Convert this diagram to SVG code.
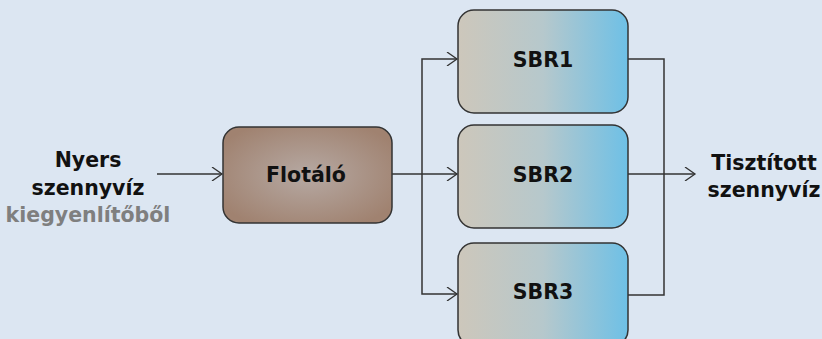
<svg xmlns="http://www.w3.org/2000/svg" width="822" height="339" viewBox="0 0 822 339">
<defs>
<linearGradient id="sbr" x1="0" y1="0" x2="1" y2="0">
<stop offset="0" stop-color="#cdc7bb"/>
<stop offset="0.5" stop-color="#b6c8cc"/>
<stop offset="1" stop-color="#6ec0e6"/>
</linearGradient>
<radialGradient id="flot" cx="0.5" cy="0.5" r="0.6">
<stop offset="0" stop-color="#b6a9a3"/>
<stop offset="1" stop-color="#a08270"/>
</radialGradient>
<marker id="arr" markerWidth="14" markerHeight="14" refX="12" refY="7" orient="auto" markerUnits="userSpaceOnUse">
<path d="M2,0 L12,7 L2,14" fill="none" stroke="#333" stroke-width="1.3"/>
</marker>
<style>
.box{stroke:#333;stroke-width:1.5}
.t{font-family:"DejaVu Sans",Verdana,sans-serif;font-weight:bold;font-size:20.5px;fill:#111;text-anchor:middle}
.g{fill:#7f7f7f}
.c{fill:none;stroke:#333;stroke-width:1.5}
</style>
</defs>
<rect width="822" height="339" fill="#dce6f2"/>
<g id="connectors">
<line class="c" x1="157" y1="174" x2="222" y2="174" marker-end="url(#arr)"/>
<line class="c" x1="392" y1="174" x2="457" y2="174" marker-end="url(#arr)"/>
<polyline class="c" points="422,174 422,59 457,59" marker-end="url(#arr)"/>
<polyline class="c" points="422,174 422,294 457,294" marker-end="url(#arr)"/>
<polyline class="c" points="628,59 664,59 664,295 628,295"/>
<line class="c" x1="628" y1="174" x2="695" y2="174" marker-end="url(#arr)"/>
</g>
<g id="input">
<text class="t" x="88" y="167">Nyers</text>
<text class="t" x="88" y="194.5">szennyvíz</text>
<text class="t g" x="88" y="221.5">kiegyenlítőből</text>
</g>
<g id="flotalo">
<rect class="box" x="223" y="127" width="169" height="96" rx="16" fill="url(#flot)"/>
<text class="t" x="306" y="181.5">Flotáló</text>
</g>
<g id="sbr1">
<rect class="box" x="458" y="10" width="170" height="103" rx="16" fill="url(#sbr)"/>
<text class="t" x="543" y="66.5">SBR1</text>
</g>
<g id="sbr2">
<rect class="box" x="458" y="125" width="170" height="103" rx="16" fill="url(#sbr)"/>
<text class="t" x="543" y="182">SBR2</text>
</g>
<g id="sbr3">
<rect class="box" x="458" y="243" width="170" height="103" rx="16" fill="url(#sbr)"/>
<text class="t" x="543" y="299">SBR3</text>
</g>
<g id="output">
<text class="t" x="764" y="169.5">Tisztított</text>
<text class="t" x="764" y="196.5">szennyvíz</text>
</g>
</svg>
